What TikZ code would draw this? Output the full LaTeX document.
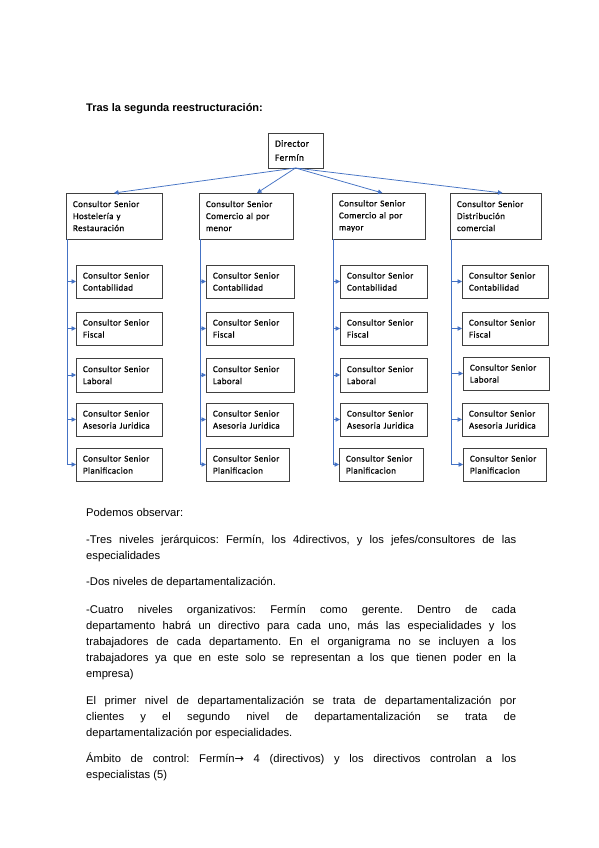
\documentclass[tikz,border=0pt]{standalone}
\usepackage{fontspec}
\setmainfont{Liberation Sans}
\newfontfamily\boxfont[LetterSpace=4,FakeBold=0.6]{Carlito}
\newfontfamily\arrowfont{DejaVu Sans}
\usetikzlibrary{arrows.meta}
\definecolor{conblue}{HTML}{4472C4}
\definecolor{boxgray}{HTML}{404040}
\frenchspacing
\newcommand\orgbox[6]{%
  \pgfmathsetmacro\orgtw{#4-14}%
  \node[box, minimum width=#4pt, minimum height=#5pt, text width=\orgtw pt] (#1) at (#2,#3) {#6};}
\begin{document}
\begin{tikzpicture}[x=1pt,y=-1pt,
  box/.style={draw=boxgray, line width=0.8pt, rectangle, anchor=north west,
    inner xsep=7pt, inner ysep=0pt, outer sep=0pt, align=left,
    font={\boxfont\fontsize{9}{12}\selectfont}},
  conn/.style={draw=conblue, line width=0.75pt},
  arr/.style={conn, -{Triangle[width=4.5pt,length=4.5pt]}},
  body/.style={anchor=base west, inner sep=0pt, text width=430pt, align=justify,
    font={\frenchspacing\fontsize{11.2}{16}\selectfont}}]
\useasboundingbox (0,0) rectangle (599,848);
\fill[white] (0,0) rectangle (599,848);

% title
\node[anchor=base west, inner sep=0pt, font={\bfseries\fontsize{11}{13}\selectfont}] (title) at (86,112) {Tras la segunda reestructuración:};

% director
\node[box, minimum width=55pt, minimum height=35pt, text width=41pt,
  font={\boxfont\fontsize{9.5}{14}\selectfont}] (dir) at (268,133) {Director\\Fermín};

% second level
\orgbox{h1}{66}{193}{96}{46}{Consultor Senior\\Hostelería y\\Restauración}
\orgbox{h2}{199}{193}{94}{46}{Consultor Senior\\Comercio al por\\menor}
\orgbox{h3}{332}{193}{93}{46}{Consultor Senior\\Comercio al por\\mayor}
\orgbox{h4}{450}{193}{91}{46}{Consultor Senior\\Distribución\\comercial}

% third level, column 1
\orgbox{s11}{76}{265}{86}{33}{Consultor Senior\\Contabilidad}
\orgbox{s12}{76}{312}{86}{33}{Consultor Senior\\Fiscal}
\orgbox{s13}{76}{358}{86}{34}{Consultor Senior\\Laboral}
\orgbox{s14}{76}{403}{86}{33}{Consultor Senior\\Asesoria Juridica}
\orgbox{s15}{76}{448}{86}{33}{Consultor Senior\\Planificacion}
% column 2
\orgbox{s21}{206}{265}{88}{33}{Consultor Senior\\Contabilidad}
\orgbox{s22}{206}{312}{87}{33}{Consultor Senior\\Fiscal}
\orgbox{s23}{206}{358}{88}{34}{Consultor Senior\\Laboral}
\orgbox{s24}{206}{403}{87}{33}{Consultor Senior\\Asesoria Juridica}
\orgbox{s25}{206}{448}{83}{33}{Consultor Senior\\Planificacion}
% column 3
\orgbox{s31}{340}{265}{87}{33}{Consultor Senior\\Contabilidad}
\orgbox{s32}{340}{312}{87}{33}{Consultor Senior\\Fiscal}
\orgbox{s33}{340}{358}{87}{34}{Consultor Senior\\Laboral}
\orgbox{s34}{340}{403}{87}{33}{Consultor Senior\\Asesoria Juridica}
\orgbox{s35}{339}{448}{84}{33}{Consultor Senior\\Planificacion}
% column 4
\orgbox{s41}{462}{265}{86}{33}{Consultor Senior\\Contabilidad}
\orgbox{s42}{462}{312}{86}{33}{Consultor Senior\\Fiscal}
\orgbox{s43}{463}{357}{86}{33}{Consultor Senior\\Laboral}
\orgbox{s44}{462}{403}{86}{33}{Consultor Senior\\Asesoria Juridica}
\orgbox{s45}{463}{448}{83}{33}{Consultor Senior\\Planificacion}

% connectors from director
\draw[arr] (dir.south) -- (h1.north);
\draw[arr] (dir.south) -- ([xshift=11pt]h2.north);
\draw[arr] (dir.south) -- ([xshift=4pt]h3.north);
\draw[arr] (dir.south) -- ([xshift=7pt]h4.north);

% connectors to specialists
\foreach \c in {1,2,3,4}{
  \coordinate (v\c) at ([xshift=1pt]h\c.south west);
  \draw[conn] (v\c) -- (v\c |- s\c5.west);
  \foreach \r in {1,2,3,4,5}{
    \draw[arr] (v\c |- s\c\r.west) -- (s\c\r.west);
  }
}

% body text
\node[body] (p0) at (86,516) {Podemos observar:};
\node[body] (p1) at (86,543) {-Tres niveles jerárquicos: Fermín, los 4directivos, y los jefes/consultores de las\linebreak especialidades};
\node[body] (p2) at (86,585) {-Dos niveles de departamentalización.};
\node[body] (p3) at (86,613) {-Cuatro niveles organizativos: Fermín como gerente. Dentro de cada\linebreak departamento habrá un directivo para cada uno, más las especialidades y los\linebreak trabajadores de cada departamento. En el organigrama no se incluyen a los\linebreak trabajadores ya que en este solo se representan a los que tienen poder en la\linebreak empresa)};
\node[body] (p4) at (86,704) {El primer nivel de departamentalización se trata de departamentalización por\linebreak clientes y el segundo nivel de departamentalización se trata de\linebreak departamentalización por especialidades.};
\node[body] (p5) at (86,762) {Ámbito de control: Fermín{\arrowfont→} 4 (directivos) y los directivos controlan a los\linebreak especialistas (5)};
\end{tikzpicture}
\end{document}
